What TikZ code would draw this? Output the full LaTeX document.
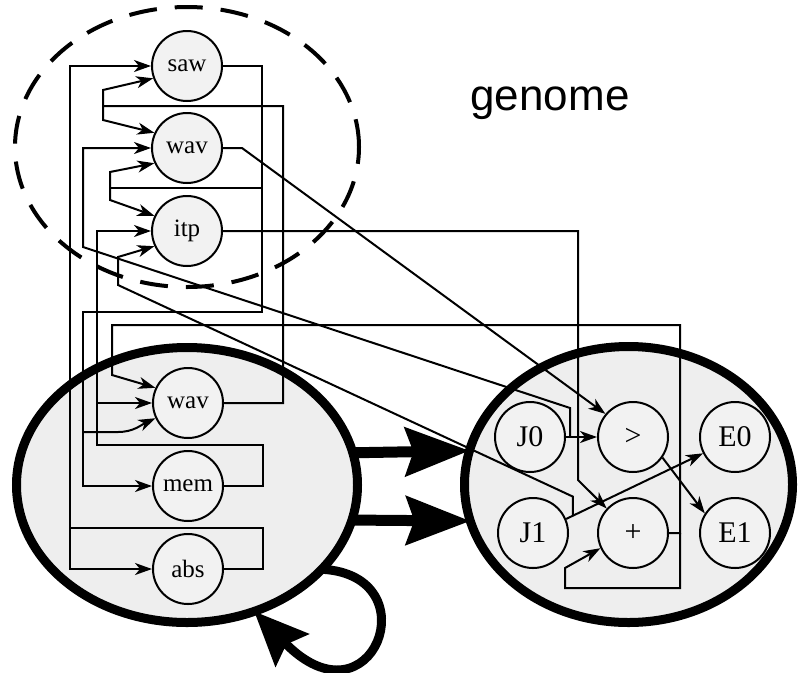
\documentclass[tikz,border=0pt]{standalone}
\usepackage{fontspec}
\setmainfont{Liberation Serif}
\newfontfamily\gsans{Liberation Sans}
\usetikzlibrary{arrows.meta,shapes.geometric}

\begin{document}
\begin{tikzpicture}[x=1pt,y=-1pt,
  neuron/.style={circle,draw,line width=2pt,fill=lgray,minimum size=70pt,inner sep=0pt,font=\fontsize{25}{25}\selectfont},
  part/.style={neuron,font=\fontsize{30}{30}\selectfont},
  body/.style={ellipse,draw,line width=9pt,fill=lbody,inner sep=0pt,outer sep=0pt},
  wire/.style={line width=2pt},
  tip/.style={-{Stealth[length=17pt,width=12pt,inset=5pt]}},
  heavy/.style={line width=11pt,-{Stealth[length=64pt,width=48pt,inset=8pt]}},
  loopline/.style={line width=9pt,-{Stealth[length=54pt,width=46pt,inset=8pt]}}]
  \definecolor{lgray}{RGB}{242,242,242}
  \definecolor{lbody}{RGB}{238,238,238}
  \useasboundingbox (0,0) rectangle (799,672);
  \node[body,minimum width=341pt,minimum height=275pt] (root) at (187,485) {};
  \node[body,minimum width=328pt,minimum height=276pt] (limb) at (628.5,484.5) {};
  \node[neuron] (saw) at (187,66) {saw};
  \node[neuron] (wavt) at (187,148) {wav};
  \node[neuron] (itp) at (187,231) {itp};
  \node[neuron] (wavb) at (188,403) {wav};
  \node[neuron] (mem) at (188,486) {mem};
  \node[neuron] (abs) at (188,569) {abs};
  \node[part] (j0) at (530,437) {J0};
  \node[part] (gt) at (633,437) {>};
  \node[part] (e0) at (735,437) {E0};
  \node[part] (j1) at (533,533) {J1};
  \node[part] (add) at (633,533) {+};
  \node[part] (e1) at (735,533) {E1};
  \draw[wire,tip] (abs.east) -| (263,528) -| (70,66) -- (saw.west);
  \draw[wire,tip] (70,528) |- (abs.west);
  \draw[wire,tip] (wavb.east) -| (283,106) -| (103,90) -- (saw.200);
  \draw[wire,tip] (103,106) -- (103,120) -- (wavt.155);
  \draw[wire,tip] (saw.east) -| (262,312) -| (83,486) -- (mem.west);
  \draw[wire] (262,188) -- (110,188);
  \draw[wire,tip] (110,188) -- (110,172) -- (wavt.205);
  \draw[wire,tip] (110,188) -- (110,200) -- (itp.155);
  \draw[wire,tip] (83,432) -- (118,432) to[out=0,in=205] (wavb.205);
  \draw[wire,tip] (mem.east) -| (263,445) -| (97,231) -- (itp.west);
  \draw[wire,tip] (97,403) -- (wavb.west);
  \draw[wire,tip] (add.east) -| (680,325) -| (112,375) -- (wavb.155);
  \draw[wire,tip] (680,533) |- (565,588) -- (565,568) -- (add.205);
  \draw[wire,tip] (j0.east) -- (gt.west);
  \draw[wire,tip] (570,437) -- (570,408) -- (83,247) -- (83,148) -- (wavt.west);
  \draw[wire,tip] (j1.23) -- coordinate[pos=0.05] (jtap) (e0.207);
  \draw[wire,tip] (jtap) -- ++(0,-19) -- (118,285) -- (118,257) -- (itp.205);
  \draw[wire,tip] (wavt.east) -- (242,148) -- (gt.140);
  \draw[wire,tip] (itp.east) -| (578,480) -- (add.137);
  \draw[wire,tip] (gt.325) -- (e1.147);
  \draw[heavy] (root.11) -- (limb.168);
  \draw[heavy] (root.348) -- (limb.193);
  \draw[loopline] (root.328) .. controls (432,575) and (372,732) .. (root.298);
  \node[ellipse,draw,line width=4pt,dash pattern=on 28pt off 18pt,minimum width=344pt,minimum height=280pt,inner sep=0pt] (pool) at (187,147) {};
  \node[font=\gsans\fontsize{44}{44}\selectfont,anchor=base] (glabel) at (550,110) {genome};
\end{tikzpicture}
\end{document}
